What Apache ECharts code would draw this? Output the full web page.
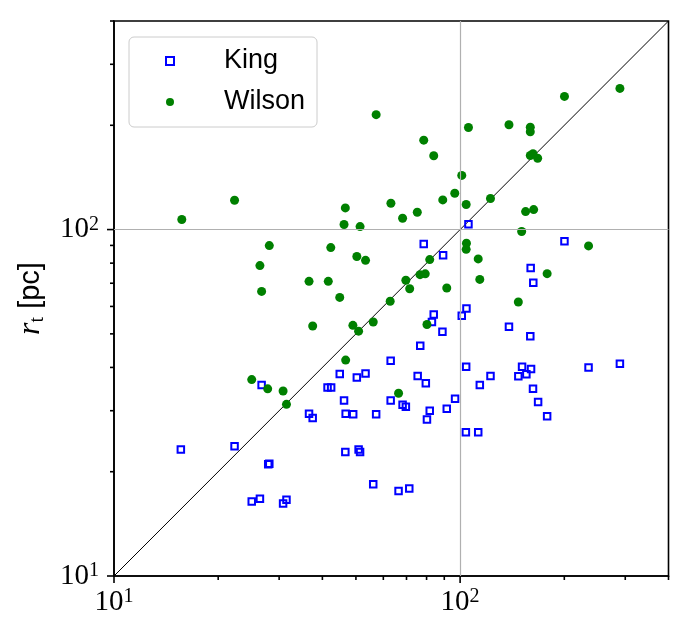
<!DOCTYPE html>
<html>
<head>
<meta charset="utf-8">
<script src="https://cdn.jsdelivr.net/npm/echarts@6/dist/echarts.min.js"></script>
<style>
  html, body { margin: 0; padding: 0; background: #fff; }
  #chart { width: 691px; height: 633px; }
</style>
</head>
<body>
<div id="chart"></div>
<script>
  // King fits (blue squares)
  const kingX = [105.7, 78.5, 89.3, 200.2, 159.9, 162.7, 104.3, 26.7, 15.6, 22.3,
    27.9, 28.1, 25.0, 26.4, 30.8, 31.5, 36.6, 37.5, 41.4, 42.4,
    44.9, 46.2, 46.7, 49.1, 50.3, 53.3, 57.2, 46.6, 50.9, 51.4,
    56.1, 63.0, 63.0, 101.1, 83.9, 82.9, 88.9, 76.7, 138.4, 159.5,
    104.1, 75.4, 79.6, 114.0, 122.4, 151.0, 160.3, 147.3, 155.4, 162.4,
    168.0, 178.4, 235.0, 289.5, 68.2, 69.7, 96.7, 91.5, 81.7, 80.2,
    103.9, 112.8, 66.4, 71.3];
  const kingY = [103.6, 90.9, 84.3, 92.5, 77.5, 70.2, 59.2, 35.6, 23.2, 23.7,
    21.0, 21.1, 16.4, 16.7, 16.2, 16.6, 29.4, 28.6, 35.0, 35.0,
    38.3, 32.1, 29.4, 29.3, 37.4, 38.4, 29.3, 22.8, 23.2, 22.8,
    18.4, 41.8, 32.1, 56.4, 56.9, 54.1, 50.7, 46.2, 52.4, 49.2,
    40.2, 37.8, 36.0, 35.6, 37.8, 40.2, 39.6, 37.7, 38.2, 34.7,
    31.8, 28.9, 40.0, 41.0, 31.2, 30.8, 32.5, 30.4, 30.0, 28.3,
    26.0, 26.0, 17.6, 17.9];

  // Wilson fits (green dots)
  const wilsonX = [57.2, 22.3, 15.7, 63.1, 46.6, 46.2, 51.4, 28.1, 42.3, 26.4,
    50.3, 53.3, 36.6, 41.6, 26.7, 44.9, 62.8, 289.5, 200.2, 138.4,
    105.7, 159.5, 159.5, 78.5, 83.9, 159.5, 162.4, 167.5, 101.1, 96.5,
    89.1, 104.1, 122.4, 75.2, 68.2, 154.6, 163.1, 150.6, 235.0, 104.3,
    104.1, 81.7, 112.8, 76.6, 79.3, 178.4, 69.7, 71.5, 114.0, 91.5,
    147.3, 37.5, 49.0, 50.9, 56.1, 46.7, 25.0, 27.8, 30.8, 31.5,
    80.2, 66.4];
  const wilsonY = [214.6, 121.5, 106.9, 119.1, 115.5, 103.4, 102.0, 89.9, 88.7, 78.7,
    83.6, 81.5, 70.9, 70.9, 66.3, 63.7, 62.1, 255.6, 242.3, 200.7,
    197.1, 197.5, 191.6, 181.2, 163.3, 163.6, 165.5, 160.7, 143.3, 127.3,
    121.8, 118.1, 122.9, 112.2, 107.8, 112.7, 114.2, 98.7, 89.7, 91.3,
    87.7, 81.9, 82.3, 74.1, 74.5, 74.6, 71.4, 67.5, 71.8, 67.8,
    61.8, 52.7, 52.9, 50.9, 54.1, 42.0, 36.9, 34.7, 34.2, 31.3,
    53.2, 33.7];

  const axisMin = 10;
  const axisMax = 400;
  const majorTicks = [10, 100];
  const minorTicks = [20, 30, 40, 50, 60, 70, 80, 90, 200, 300, 400];
  const refLine = [10, 400];

  const zip = (xs, ys) => xs.map((x, i) => [x, ys[i]]);
  const allTicks = majorTicks.concat(minorTicks);

  const serif = '"Liberation Serif", "DejaVu Serif", serif';
  const sans = '"Liberation Sans", "DejaVu Sans", sans-serif';

  const powLabel = v => {
    const e = Math.log10(v);
    if (Math.abs(e - Math.round(e)) > 1e-6 || v > 150) return '';
    return '{b|10}{s|' + Math.round(e) + '}';
  };
  const powRich = {
    b: { fontSize: 29, lineHeight: 30, fontFamily: serif, color: '#000' },
    s: { fontSize: 20, lineHeight: 18, fontFamily: serif, color: '#000', verticalAlign: 'top' }
  };

  const logAxis = {
    type: 'log',
    logBase: 10,
    min: axisMin,
    max: axisMax,
    axisLine: { show: true, onZero: false, lineStyle: { color: '#000', width: 1.6 } },
    axisTick: { show: false },
    splitLine: { show: false },
    minorTick: { show: false },
    axisLabel: { formatter: powLabel, rich: powRich, showMaxLabel: false }
  };

  const myChart = echarts.init(document.getElementById('chart'), null, { renderer: 'canvas' });

  const option = {
    animation: false,
    backgroundColor: '#fff',
    grid: {
      left: 114, right: 22.5, top: 21, bottom: 57,
      show: true, borderColor: '#000', borderWidth: 1.6, backgroundColor: 'transparent'
    },
    legend: {
      data: ['King', 'Wilson'],
      orient: 'vertical',
      left: 129, top: 37,
      padding: [9, 12, 10, 36],
      itemGap: 11,
      itemWidth: 8, itemHeight: 8,
      backgroundColor: 'rgba(255,255,255,0.8)',
      borderColor: '#cccccc', borderWidth: 1, borderRadius: 5,
      textStyle: { fontSize: 27, lineHeight: 30, fontFamily: sans, color: '#000', padding: [0, 0, 0, 45] }
    },
    xAxis: Object.assign({}, logAxis, {
      axisLabel: Object.assign({}, logAxis.axisLabel, { margin: 11 })
    }),
    yAxis: Object.assign({}, logAxis, {
      axisLabel: Object.assign({}, logAxis.axisLabel, { margin: 15 }),
      name: '{r|r}{t|t}{p| [pc]}',
      nameLocation: 'middle',
      nameGap: 66,
      nameTextStyle: {
        rich: {
          r: { fontSize: 32, fontStyle: 'italic', fontFamily: serif, lineHeight: 34, color: '#000' },
          t: { fontSize: 20, fontFamily: serif, lineHeight: 20, verticalAlign: 'bottom', color: '#000' },
          p: { fontSize: 29, fontFamily: sans, lineHeight: 34, color: '#000' }
        }
      }
    }),
    series: [
      {
        name: 'ref',
        type: 'line',
        data: [[refLine[0], refLine[0]], [refLine[1], refLine[1]]],
        symbol: 'none',
        silent: true,
        z: 1,
        lineStyle: { color: '#000', width: 1 },
        markLine: {
          silent: true,
          symbol: 'none',
          label: { show: false },
          lineStyle: { color: '#b0b0b0', width: 1.2, type: 'solid' },
          data: [{ xAxis: 100 }, { yAxis: 100 }]
        }
      },
      {
        name: 'King',
        type: 'scatter',
        data: zip(kingX, kingY),
        symbol: 'rect',
        symbolSize: 6.5,
        z: 3,
        itemStyle: { color: 'rgba(255,255,255,0)', borderColor: '#0000ff', borderWidth: 2, opacity: 1 }
      },
      {
        name: 'Wilson',
        type: 'scatter',
        data: zip(wilsonX, wilsonY),
        symbol: 'circle',
        symbolSize: 9,
        z: 4,
        itemStyle: { color: '#008000', opacity: 1 }
      },
      {
        name: 'ticks',
        type: 'custom',
        silent: true,
        clip: false,
        z: 5,
        data: allTicks.map(v => [v, v]),
        renderItem: (params, api) => {
          const v = api.value(0);
          const len = params.dataIndex < majorTicks.length ? 7 : 4;
          const px = api.coord([v, axisMin]);
          const py = api.coord([axisMin, v]);
          const st = { stroke: '#000', lineWidth: 1.6 };
          return {
            type: 'group',
            children: [
              { type: 'line', shape: { x1: px[0], y1: px[1], x2: px[0], y2: px[1] + len }, style: st },
              { type: 'line', shape: { x1: py[0] - len, y1: py[1], x2: py[0], y2: py[1] }, style: st }
            ]
          };
        }
      }
    ]
  };

  myChart.setOption(option);
</script>
</body>
</html>
